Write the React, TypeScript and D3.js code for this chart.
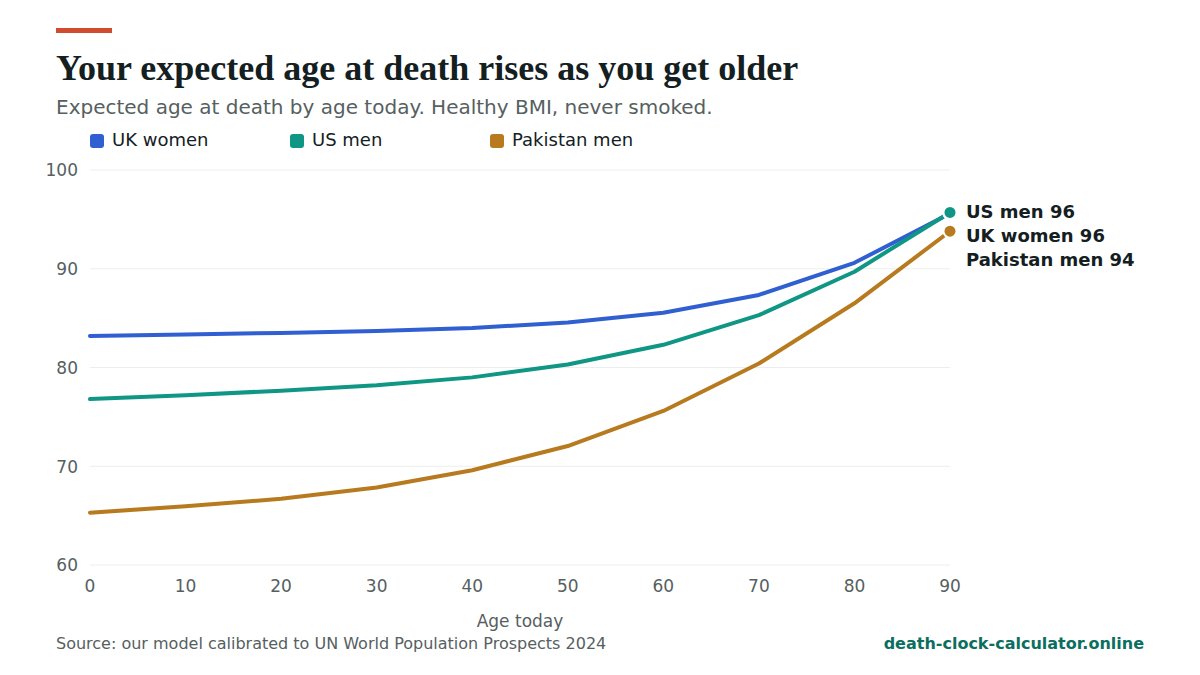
import React, { useEffect, useRef } from 'react';
import * as d3 from 'd3';

const ages = [0, 10, 20, 30, 40, 50, 60, 70, 80, 90];
const ukWomen = [83.2, 83.35, 83.5, 83.7, 84.0, 84.55, 85.55, 87.35, 90.6, 95.6];
const usMen = [76.8, 77.2, 77.65, 78.2, 79.0, 80.3, 82.3, 85.3, 89.7, 95.7];
const pakistanMen = [65.3, 65.95, 66.7, 67.85, 69.6, 72.05, 75.6, 80.4, 86.5, 93.8];
const yTicks = [60, 70, 80, 90, 100];

const seriesNames = ['UK women', 'US men', 'Pakistan men'];
const seriesValues = [ukWomen, usMen, pakistanMen];
const seriesColors = ['#2f5fd0', '#0f9684', '#b87a1e'];

const SANS = '"DejaVu Sans", sans-serif';
const SERIF = '"Liberation Serif", serif';

const App: React.FC = () => {
  const svgRef = useRef<SVGSVGElement>(null);

  useEffect(() => {
    if (!svgRef.current) return;

    const svg = d3.select(svgRef.current);
    svg.selectAll('*').remove();

    const width = 1200;
    const height = 675;
    const margin = { top: 170, right: 250, bottom: 110, left: 90 };

    const x = d3.scaleLinear()
      .domain([0, 90])
      .range([margin.left, width - margin.right]);

    const y = d3.scaleLinear()
      .domain([60, 100])
      .range([height - margin.bottom, margin.top]);

    svg.append('rect').attr('width', width).attr('height', height).attr('fill', '#ffffff');

    // Header
    svg.append('rect').attr('x', 56).attr('y', 28).attr('width', 56).attr('height', 5).attr('fill', '#d14b2f');

    svg.append('text')
      .attr('x', 56).attr('y', 80)
      .attr('font-family', SERIF).attr('font-size', 36).attr('font-weight', 700)
      .attr('fill', '#14201f')
      .text('Your expected age at death rises as you get older');

    svg.append('text')
      .attr('x', 56).attr('y', 114)
      .attr('font-family', SANS).attr('font-size', 20)
      .attr('fill', '#56605f')
      .text('Expected age at death by age today. Healthy BMI, never smoked.');

    // Legend
    seriesNames.forEach((name, i) => {
      const g = svg.append('g').attr('transform', `translate(${90 + i * 200},134)`);
      g.append('rect').attr('width', 14).attr('height', 14).attr('rx', 3).attr('fill', seriesColors[i]);
      g.append('text')
        .attr('x', 22).attr('y', 12)
        .attr('font-family', SANS).attr('font-size', 18)
        .attr('fill', '#14201f')
        .text(name);
    });

    // Gridlines + y labels
    const yAxis = svg.append('g')
      .attr('transform', `translate(${margin.left},0)`)
      .call(d3.axisLeft(y).tickValues(yTicks).offset(0).tickSize(-(width - margin.right - margin.left)).tickPadding(12));
    yAxis.select('.domain').remove();
    yAxis.selectAll('.tick line').attr('stroke', '#eceeee').attr('stroke-width', 1);
    yAxis.selectAll('.tick text')
      .attr('dy', '0.38em')
      .attr('font-family', SANS).attr('font-size', 17).attr('fill', '#56605f');

    // X axis
    const xAxis = svg.append('g')
      .attr('transform', `translate(0,${height - margin.bottom})`)
      .call(d3.axisBottom(x).tickValues(ages).offset(0).tickSize(0).tickPadding(15));
    xAxis.select('.domain').remove();
    xAxis.selectAll('.tick text')
      .attr('font-family', SANS).attr('font-size', 17).attr('fill', '#56605f');

    svg.append('text')
      .attr('x', (x(0) + x(90)) / 2).attr('y', 627)
      .attr('text-anchor', 'middle')
      .attr('font-family', SANS).attr('font-size', 17).attr('fill', '#56605f')
      .text('Age today');

    // Lines
    const line = d3.line<number>()
      .x((_, i) => x(ages[i]))
      .y(d => y(d));

    seriesValues.forEach((values, i) => {
      svg.append('path')
        .datum(values)
        .attr('fill', 'none')
        .attr('stroke', seriesColors[i])
        .attr('stroke-width', 4)
        .attr('stroke-linejoin', 'round')
        .attr('stroke-linecap', 'round')
        .attr('d', line);
    });

    // End dots, white ring hides the line tip
    seriesValues.forEach((values, i) => {
      svg.append('circle')
        .attr('cx', x(ages[ages.length - 1]))
        .attr('cy', y(values[values.length - 1]))
        .attr('r', 5.5)
        .attr('fill', seriesColors[i])
        .attr('stroke', '#ffffff')
        .attr('stroke-width', 4)
        .attr('paint-order', 'stroke');
    });

    // End labels, pushed apart so they don't overlap
    const order = d3.range(seriesNames.length)
      .sort((a, b) => d3.descending(seriesValues[a][9], seriesValues[b][9]));
    let lastY = -Infinity;
    order.forEach(i => {
      const last = seriesValues[i][seriesValues[i].length - 1];
      const ly = Math.max(y(last), lastY + 24);
      lastY = ly;
      svg.append('text')
        .attr('x', x(90) + 16).attr('y', ly)
        .attr('dy', '0.3em')
        .attr('font-family', SANS).attr('font-size', 18).attr('font-weight', 700)
        .attr('fill', '#14201f')
        .text(`${seriesNames[i]} ${Math.round(last)}`);
    });

    // Footer
    svg.append('text')
      .attr('x', 56).attr('y', 649)
      .attr('font-family', SANS).attr('font-size', 16).attr('fill', '#56605f')
      .text('Source: our model calibrated to UN World Population Prospects 2024');

    svg.append('text')
      .attr('x', 1144).attr('y', 649)
      .attr('text-anchor', 'end')
      .attr('font-family', SANS).attr('font-size', 16).attr('font-weight', 700).attr('fill', '#0b6e60')
      .text('death-clock-calculator.online');
  }, []);

  return (
    <svg
      ref={svgRef}
      width={1200}
      height={675}
      viewBox="0 0 1200 675"
      style={{ position: 'absolute', left: 0, top: 0, display: 'block' }}
    />
  );
};

export default App;
